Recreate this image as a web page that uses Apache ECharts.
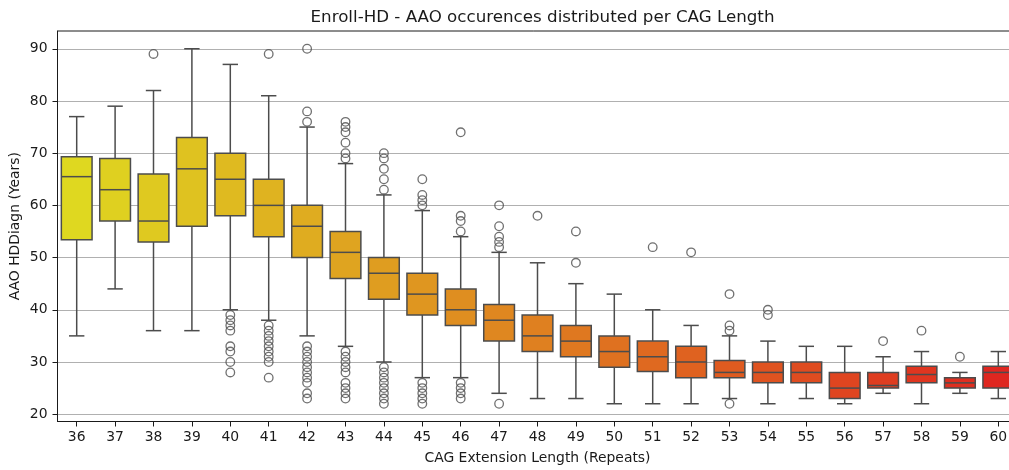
<!DOCTYPE html>
<html>
<head>
<meta charset="utf-8">
<script src="https://cdn.jsdelivr.net/npm/echarts@6/dist/echarts.min.js"></script>
<style>
  html, body { margin: 0; padding: 0; background: #fff; }
  #chart { width: 1009px; height: 470px; }
</style>
</head>
<body>
<div id="chart"></div>
<script>
// CAG repeat lengths on the x axis
const categories = ['36','37','38','39','40','41','42','43','44','45','46','47','48',
                    '49','50','51','52','53','54','55','56','57','58','59','60'];

// Box statistics per CAG length (age at onset, years)
const whiskerLow  = [35, 44, 36, 36, 40, 38, 35, 33, 30, 27, 27, 24, 23, 23, 22, 22, 22, 23, 22, 23, 22, 24, 22, 24, 23];
const quartile1   = [53.4, 57, 53, 56, 58, 54, 50, 46, 42, 39, 37, 34, 32, 31, 29, 28.2, 27, 27, 26, 26, 23, 25, 26, 25, 25];
const medians     = [65.5, 63, 57, 67, 65, 60, 56, 51, 47, 43, 40, 38, 35, 34, 32, 31, 30, 28, 28, 28, 25, 25.5, 27.6, 26, 28];
const quartile3   = [69.3, 69, 66, 73, 70, 65, 60, 55, 50, 47, 44, 41, 39, 37, 35, 34, 33, 30.3, 30, 30, 28, 28, 29.2, 27, 29.2];
const whiskerHigh = [77, 79, 82, 90, 87, 81, 75, 68, 62, 59, 54, 51, 49, 45, 43, 40, 37, 35, 34, 33, 33, 31, 32, 28, 32];

// Flier values per CAG length
const outliers = [
  [], [], [89], [],
  [39, 38, 37, 36, 33, 32, 30, 28],
  [89, 37, 36, 35, 34, 33, 32, 31, 30, 27],
  [90, 78, 76, 33, 32, 31, 30, 29, 28, 27, 26, 24, 23],
  [76, 75, 74, 72, 70, 69, 32, 31, 30, 29, 28, 26, 25, 24, 23],
  [70, 69, 67, 65, 63, 29, 28, 27, 26, 25, 24, 23, 22],
  [65, 62, 61, 60, 26, 25, 24, 23, 22],
  [74, 58, 57, 55, 26, 25, 24, 23],
  [60, 56, 54, 53, 52, 22],
  [58], [55, 49], [], [52], [51],
  [43, 37, 36, 22],
  [40, 39], [], [], [34], [36], [31], []
];

// Y axis tick labels
const yTicks = [20, 30, 40, 50, 60, 70, 80, 90];

// Yellow-to-red ramp (reversed autumn map, desaturated to 75%)
function rampColor(i, n) {
  const t = (i + 1) / (n + 1);
  const g = 1 - t;
  const gv = Math.round((0.125 + 0.75 * g) * 255);
  return 'rgb(223,' + gv + ',32)';
}

const lineGray = '#4c4c4c';
const textColor = '#1a1a1a';
const font = 'DejaVu Sans';

const boxData = categories.map((c, i) =>
  [i, whiskerLow[i], quartile1[i], medians[i], quartile3[i], whiskerHigh[i]]);

const flierData = [];
outliers.forEach((vals, i) => vals.forEach(v => flierData.push([i, v])));

const chart = echarts.init(document.getElementById('chart'), null, { renderer: 'canvas' });

chart.setOption({
  animation: false,
  backgroundColor: '#fff',
  textStyle: { fontFamily: font },
  title: {
    text: 'Enroll-HD - AAO occurences distributed per CAG Length',
    left: 537.5,
    textAlign: 'center',
    top: 4,
    textStyle: { fontFamily: font, fontSize: 16.7, fontWeight: 'normal', color: textColor }
  },
  // the plot area runs a little past the right edge of the canvas
  grid: {
    left: 57.5, width: 960, top: 31, bottom: 48.5,
    outerBoundsMode: 'none',
    containLabel: false,
    show: true, borderColor: '#1a1a1a', borderWidth: 1, backgroundColor: 'transparent'
  },
  xAxis: {
    type: 'category',
    data: categories,
    name: 'CAG Extension Length (Repeats)',
    nameLocation: 'middle',
    nameGap: 30,
    nameTextStyle: { fontFamily: font, fontSize: 13.9, color: textColor },
    axisLine: { show: true, lineStyle: { color: '#1a1a1a', width: 1 } },
    axisTick: { show: true, alignWithLabel: true, length: 5, lineStyle: { color: '#1a1a1a', width: 1 } },
    axisLabel: { margin: 9, fontFamily: font, fontSize: 13.9, color: textColor, interval: 0 },
    splitLine: { show: false }
  },
  yAxis: {
    type: 'value',
    min: 18.6,
    max: 93.4,
    name: 'AAO HDDiagn (Years)',
    nameLocation: 'middle',
    nameGap: 35,
    nameMoveOverlap: false,
    nameTextStyle: { fontFamily: font, fontSize: 13.9, color: textColor },
    axisLine: { show: true, lineStyle: { color: '#1a1a1a', width: 1 } },
    axisTick: { show: true, length: 5, customValues: yTicks, lineStyle: { color: '#1a1a1a', width: 1 } },
    axisLabel: { margin: 10, fontFamily: font, fontSize: 13.9, color: textColor, customValues: yTicks },
    splitLine: { show: true, lineStyle: { color: '#b0b0b0', width: 1.1 } }
  },
  series: [
    {
      type: 'custom',
      data: boxData,
      encode: { x: 0, y: [1, 2, 3, 4, 5] },
      z: 3,
      silent: true,
      clip: false,
      renderItem(params, api) {
        const x = api.value(0);
        const pLow = api.coord([x, api.value(1)]);
        const pQ1 = api.coord([x, api.value(2)]);
        const pMed = api.coord([x, api.value(3)]);
        const pQ3 = api.coord([x, api.value(4)]);
        const pHigh = api.coord([x, api.value(5)]);
        const band = api.size([1, 0])[0];
        const bw = band * 0.8;
        const cw = band * 0.4;
        const cx = pMed[0];
        const stroke = { stroke: lineGray, lineWidth: 1.5, fill: null };
        return {
          type: 'group',
          children: [
            { type: 'line', shape: { x1: cx, y1: pQ1[1], x2: cx, y2: pLow[1] }, style: stroke },
            { type: 'line', shape: { x1: cx, y1: pQ3[1], x2: cx, y2: pHigh[1] }, style: stroke },
            { type: 'line', shape: { x1: cx - cw / 2, y1: pLow[1], x2: cx + cw / 2, y2: pLow[1] }, style: stroke },
            { type: 'line', shape: { x1: cx - cw / 2, y1: pHigh[1], x2: cx + cw / 2, y2: pHigh[1] }, style: stroke },
            {
              type: 'rect',
              shape: { x: cx - bw / 2, y: pQ3[1], width: bw, height: pQ1[1] - pQ3[1] },
              style: { fill: rampColor(params.dataIndex, categories.length), stroke: lineGray, lineWidth: 1.5 }
            },
            { type: 'line', shape: { x1: cx - bw / 2, y1: pMed[1], x2: cx + bw / 2, y2: pMed[1] }, style: stroke }
          ]
        };
      }
    },
    {
      type: 'scatter',
      data: flierData,
      z: 4,
      silent: true,
      symbol: 'circle',
      symbolSize: 8.6,
      itemStyle: { color: 'rgba(0,0,0,0)', borderColor: lineGray, borderWidth: 1.3 }
    }
  ]
});
</script>
</body>
</html>
